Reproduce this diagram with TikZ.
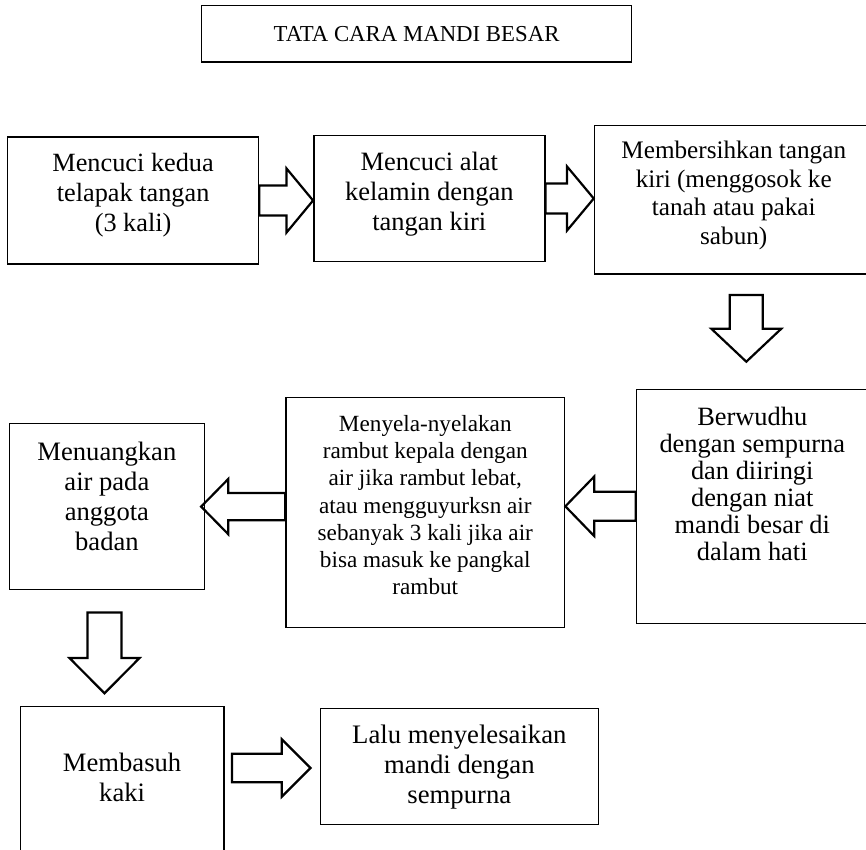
\documentclass[tikz,border=0pt]{standalone}
\usepackage{fontspec}
\setmainfont{Liberation Serif}
\usetikzlibrary{positioning,calc}

\newcommand{\fatarrow}[5]{%
  \coordinate (fa) at ($(#2)!#5!(#1)$);
  \draw[fat] ($(#1)!#3!90:(#2)$) -- ($(fa)!#3!90:(#2)$) -- ($(fa)!#4!90:(#2)$)
    -- (#2) -- ($(fa)!#4!-90:(#2)$) -- ($(fa)!#3!-90:(#2)$)
    -- ($(#1)!#3!-90:(#2)$) -- cycle;
}

\begin{document}
\begin{tikzpicture}[x=1pt, y=-1pt,
        box/.style = {draw, line width=1.5pt, inner sep=0pt},
        txt/.style = {align=center, inner sep=0pt},
        fat/.style = {line width=2.2pt, line join=miter}
        ]
        \useasboundingbox (0,0) rectangle (866,849);
        \node[box, minimum width=429.8pt, minimum height=56.5pt,
              font=\fontsize{22.8}{27}\selectfont] (judul) at (416.6,33.7) {TATA CARA MANDI BESAR};
        \node[box, minimum width=250.9pt, minimum height=127pt] (s1) at (133.1,200.5) {};
        \node[box, minimum width=231pt, minimum height=126.4pt] (s2) at (429.3,198.5) {};
        \node[box, minimum width=278.5pt, minimum height=148.7pt] (s3) at (733.75,199.65) {};
        \node[box, minimum width=231.5pt, minimum height=234pt] (s4) at (752.25,506.3) {};
        \node[box, minimum width=278.6pt, minimum height=230.4pt] (s5) at (425.3,512.5) {};
        \node[box, minimum width=195pt, minimum height=166.2pt] (s6) at (106.9,506.6) {};
        \node[box, minimum width=203.4pt, minimum height=168.3pt] (s7) at (122.1,790.85) {};
        \node[box, minimum width=277.9pt, minimum height=116pt] (s8) at (459.35,766.3) {};
        \node[txt, font=\fontsize{26.3}{30}\selectfont] (t1) at ([yshift=5pt]s1.center)
            {Mencuci kedua\\telapak tangan\\(3 kali)};
        \node[txt, font=\fontsize{26.5}{30}\selectfont] (t2) at ([yshift=4.6pt]s2.center)
            {Mencuci alat\\kelamin dengan\\tangan kiri};
        \node[txt, font=\fontsize{25.2}{28.6}\selectfont] (t3) at ([yshift=4.3pt]s3.center)
            {Membersihkan tangan\\kiri (menggosok ke\\tanah atau pakai\\sabun)};
        \node[txt, font=\fontsize{26.4}{27}\selectfont] (t4) at ([yshift=22.8pt]s4.center)
            {Berwudhu\\dengan sempurna\\dan diiringi\\dengan niat\\mandi besar di\\dalam hati};
        \node[txt, font=\fontsize{23.2}{27.3}\selectfont] (t5) at ([yshift=7.4pt]s5.center)
            {Menyela-nyelakan\\rambut kepala dengan\\air jika rambut lebat,\\atau mengguyurksn air\\sebanyak 3 kali jika air\\bisa masuk ke pangkal\\rambut};
        \node[txt, font=\fontsize{26.6}{30}\selectfont] (t6) at ([yshift=10.7pt]s6.center)
            {Menuangkan\\air pada\\anggota\\badan};
        \node[txt, font=\fontsize{26.6}{30}\selectfont] (t7) at ([yshift=13.3pt]s7.center)
            {Membasuh\\kaki};
        \node[txt, font=\fontsize{26.7}{30}\selectfont] (t8) at ([yshift=-0.7pt]s8.center)
            {Lalu menyelesaikan\\mandi dengan\\sempurna};
        \coordinate (d1a) at (746.3,295);
        \coordinate (d1b) at (746.3,361.7);
        \coordinate (d2a) at (104.5,612.5);
        \coordinate (d2b) at (104.5,693.3);
        \coordinate (a7a) at (232,768);
        \coordinate (a7b) at (310.5,768);
        \fatarrow{s1.east}{s1.east -| s2.west}{15pt}{32pt}{26.5pt}
        \fatarrow{s2.east}{s2.east -| s3.west}{15pt}{32pt}{26.7pt}
        \fatarrow{d1a}{d1b}{16.5pt}{35pt}{33pt}
        \fatarrow{s4.west}{s4.west -| s5.east}{14.5pt}{29.7pt}{28.8pt}
        \fatarrow{s6.east -| s5.west}{[xshift=-4pt]s6.east}{13.7pt}{27.5pt}{27pt}
        \fatarrow{d2a}{d2b}{17pt}{35pt}{35.3pt}
        \fatarrow{a7a}{a7b}{14.2pt}{28.7pt}{28.7pt}
\end{tikzpicture}
\end{document}
